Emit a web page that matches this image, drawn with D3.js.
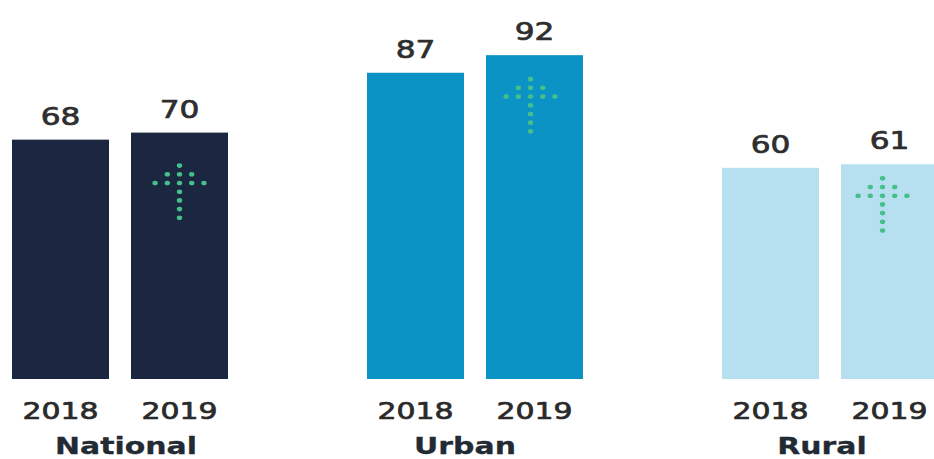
<!DOCTYPE html>
<html>
<head>
<meta charset="utf-8">
<script src="https://cdn.jsdelivr.net/npm/d3@7"></script>
<style>
  html, body { margin: 0; padding: 0; background: #ffffff; }
  svg { display: block; }
</style>
</head>
<body>
<svg id="chart" width="934" height="459"></svg>
<script>
// Categories and values
const groups = ["National", "Urban", "Rural"];
const years = ["2018", "2019"];
const values2018 = [68, 87, 60];
const values2019 = [70, 92, 61];
const groupColors = ["#1b2641", "#0c93c5", "#b6e0ef"];

// Dotted up-arrow: number of dots per row, top to bottom
const arrowRows = [1, 3, 5, 1, 1, 1, 1];
// Arrow placement inside each 2019 bar (px below bar top, px from bar centre)
const arrowDrop = [33, 24, 14];
const arrowShift = [0, -4, -7];
// Horizontal nudge of each group name from the group centre
const nameShift = [6, -10, -8];

const svg = d3.select("#chart");
const textScale = 1.3;   // the typeface is set wide

const x0 = d3.scaleBand().domain(groups).range([12, 12 + 355 * groups.length]).padding(0);
const x1 = d3.scaleBand().domain(years).range([0, 216]).paddingInner(0.185).paddingOuter(0);
const y = d3.scaleLinear().domain([0, 100]).range([379, 27]);

const rows = [];
groups.forEach((g, i) => {
  rows.push({ group: g, gi: i, year: "2018", value: values2018[i] });
  rows.push({ group: g, gi: i, year: "2019", value: values2019[i] });
});

// Bars
svg.append("g").selectAll("rect")
  .data(rows)
  .join("rect")
  .attr("x", d => x0(d.group) + x1(d.year))
  .attr("y", d => y(d.value))
  .attr("width", x1.bandwidth())
  .attr("height", d => y(0) - y(d.value))
  .attr("fill", d => groupColors[d.gi]);

// Helper for wide text (a thin outline gives the medium weight)
function wideText(sel, cx, cy, txt, size, weight, color, stroke) {
  sel.append("text")
    .attr("transform", `translate(${cx},${cy}) scale(${textScale},1)`)
    .attr("text-anchor", "middle")
    .attr("font-family", "DejaVu Sans, sans-serif")
    .attr("font-size", size)
    .attr("font-weight", weight)
    .attr("fill", color)
    .attr("stroke", color)
    .attr("stroke-width", stroke)
    .attr("stroke-linejoin", "round")
    .text(txt);
}

const labels = svg.append("g");

// Value labels above bars
rows.forEach(d => {
  const cx = x0(d.group) + x1(d.year) + x1.bandwidth() / 2;
  wideText(labels, cx, y(d.value) - 15, d.value, 24, "normal", "#2e2e2e", 0.7);
});

// Year labels under bars
rows.forEach(d => {
  const cx = x0(d.group) + x1(d.year) + x1.bandwidth() / 2;
  wideText(labels, cx, 418.5, d.year, 23, "normal", "#2a2a2a", 0.7);
});

// Group names
groups.forEach((g, i) => {
  const cx = x0(g) + 108 + nameShift[i];
  wideText(labels, cx, 453.5, g, 23, "bold", "#222a33", 0.3);
});

// Dotted arrows in the 2019 bars
const dx = 12.2, dy = 8.7;
const arrows = svg.append("g");
groups.forEach((g, i) => {
  const cx = x0(g) + x1("2019") + x1.bandwidth() / 2 + arrowShift[i];
  const top = y(values2019[i]) + arrowDrop[i];
  const dots = [];
  arrowRows.forEach((n, r) => {
    for (let k = 0; k < n; k++) {
      dots.push({ x: cx + (k - (n - 1) / 2) * dx, y: top + r * dy });
    }
  });
  arrows.append("g").selectAll("ellipse")
    .data(dots)
    .join("ellipse")
    .attr("cx", d => d.x)
    .attr("cy", d => d.y)
    .attr("rx", 2.7)
    .attr("ry", 2.3)
    .attr("fill", "#45c08b");
});
</script>
</body>
</html>
